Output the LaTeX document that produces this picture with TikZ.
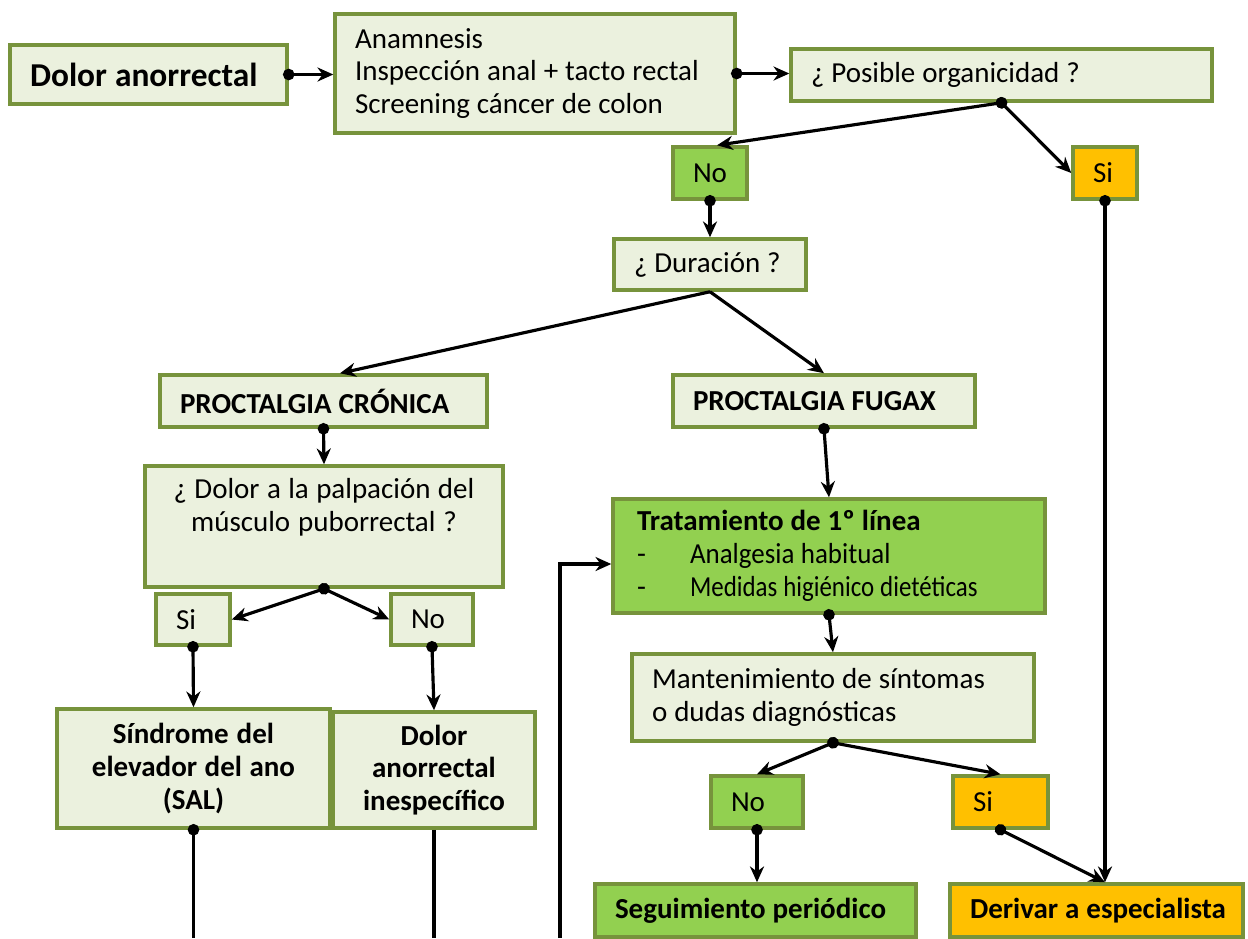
\documentclass[tikz,border=0pt]{standalone}
\usepackage{fontspec}
\setmainfont{Carlito}
\usetikzlibrary{arrows.meta, positioning}
\definecolor{boxfill}{HTML}{EBF1DE}
\definecolor{boxedge}{HTML}{77933C}
\definecolor{verde}{HTML}{92D050}
\definecolor{naranja}{HTML}{FFC000}

\begin{document}
\begin{tikzpicture}[
    x=0.02cm, y=-0.02cm,
    box/.style={rectangle, draw=boxedge, line width=2pt, fill=boxfill,
                font=\fontsize{16.5}{18.7}\selectfont, inner ysep=2pt,
                execute at begin node={\spaceskip=0.24em plus 0.05em\relax}},
    lbox/.style={box, align=left, inner xsep=0.4cm, text width=#1},
    cbox/.style={box, align=center, inner xsep=0.2cm, text width=#1},
    gbox/.style={fill=verde},
    obox/.style={fill=naranja},
    arrow/.style={line width=1.8pt, shorten <=-3.25pt,
                  {Circle[length=6.5pt]}-{Stealth[length=9pt, width=8pt]}},
    arrownodot/.style={line width=1.8pt, -{Stealth[length=9pt, width=8pt]}},
    dotline/.style={line width=1.8pt, shorten <=-3.25pt, {Circle[length=6.5pt]}-},
    plainline/.style={line width=1.8pt}
]
\useasboundingbox (0,0) rectangle (1248,938);

% top row
\node (dolor)   [lbox=4.74cm, minimum height=1.18cm, font=\fontsize{19}{22}\bfseries] at (148.5,74.5) {Dolor anorrectal};
\node (exam)    [lbox=7.2cm, minimum height=2.38cm] at (535,73.5)
    {Anamnesis\\ Inspección anal + tacto rectal\\ Screening cáncer de colon};
\node (organ)   [lbox=7.62cm, minimum height=1.04cm] at (1001.5,75) {¿ Posible organicidad ?};
\node (no1)     [lbox=0.68cm, gbox, minimum height=1.04cm] at (710,173) {No};
\node (si1)     [lbox=0.48cm, obox, minimum height=1.04cm] at (1105,173) {Si};
\node (durac)   [lbox=3.04cm, minimum height=1.02cm] at (710,264.5) {\mbox{¿ Duración ?}};

% chronic branch
\node (cronica) [lbox=5.74cm, minimum height=1.04cm, font=\fontsize{16.5}{18.7}\bfseries] at (323.5,401) {PROCTALGIA CRÓNICA};
\node (palp)    [cbox=6.76cm, minimum height=2.42cm] at (324,526.5)
    {¿ Dolor a la palpación del\\ músculo puborrectal ?\\ \strut};
\node (si2)     [lbox=0.68cm, minimum height=1.02cm] at (193,619.5) {Si};
\node (no2)     [lbox=0.84cm, minimum height=1.02cm] at (432,619.5) {No};
\node (sindrome)[cbox=5.06cm, minimum height=2.38cm, font=\fontsize{16.5}{18.7}\bfseries] at (193.5,768.5)
    {Síndrome del\\ elevador del ano\\ (SAL)};
\node (inesp)   [cbox=3.64cm, minimum height=2.32cm, font=\fontsize{16.5}{18.7}\bfseries] at (434,770)
    {Dolor\\ anorrectal\\ inespecífico};

% fugax branch
\node (fugax)   [lbox=5.24cm, minimum height=1.04cm, font=\fontsize{16.5}{18.7}\bfseries] at (824,401) {PROCTALGIA FUGAX};
\node (trat)    [lbox=7.68cm, gbox, inner xsep=0.48cm, minimum height=2.28cm] at (829,556)
    {\textbf{Tratamiento de 1º línea}\\
     \makebox[1.06cm][l]{-}\scalebox{0.93}[1]{Analgesia habitual}\\
     \makebox[1.06cm][l]{-}\scalebox{0.86}[1]{Medidas higiénico dietéticas}};
\node (mant)    [lbox=7.24cm, minimum height=1.74cm] at (833,697.5)
    {Mantenimiento de síntomas\\ o dudas diagnósticas};
\node (no3)     [lbox=1.04cm, gbox, minimum height=1.04cm] at (757,802) {No};
\node (si3)     [lbox=1.1cm, obox, minimum height=1.04cm] at (1000.5,802) {Si};
\node (seguim)  [lbox=5.62cm, gbox, minimum height=1.06cm, font=\fontsize{16.5}{18.7}\bfseries] at (755.5,910.5) {Seguimiento periódico};
\node (deriv)   [lbox=5.06cm, obox, minimum height=1.06cm, font=\fontsize{16.5}{18.7}\bfseries] at (1096.5,910.5) {\mbox{Derivar a especialista}};

% loose ends at the bottom edge
\coordinate (bottom)  at (0,938);
\coordinate (retorno) at (560,938);
\coordinate (tratin)  at ([yshift=-0.16cm]trat.west);

\draw [arrow] (dolor.east) -- (dolor.east -| exam.west);
\draw [arrow] (exam.east) -- (exam.east -| organ.west);
\draw [arrow] (organ.south) -- ([xshift=0.14cm]no1.north);
\draw [arrow] (organ.south) -- (si1.west);
\draw [arrow] (si1.south) -- (si1.south |- deriv.north);
\draw [arrow] (no1.south) -- (durac.north);
\draw [arrownodot] (durac.south) -- ([xshift=0.33cm]cronica.north);
\draw [arrownodot] (durac.south) -- (fugax.north);
\draw [arrow] (cronica.south) -- (palp.north);
\draw [arrow] (fugax.south) -- (trat.north);
\draw [arrow] (palp.south) -- (si2.east);
\draw [arrow] (palp.south) -- (no2.west);
\draw [arrow] (si2.south) -- (sindrome.north);
\draw [arrow] (no2.south) -- (inesp.north);
\draw [dotline] (sindrome.south) -- (sindrome.south |- bottom);
\draw [plainline] (inesp.south) -- (inesp.south |- bottom);
\draw [arrownodot] (retorno) |- (tratin);
\draw [arrow] (trat.south) -- (mant.north);
\draw [arrow] (mant.south) -- (no3.north);
\draw [arrow] (mant.south) -- (si3.north);
\draw [arrow] (no3.south) -- (no3.south |- seguim.north);
\draw [arrow] (si3.south) -- (si1.south |- deriv.north);
\end{tikzpicture}
\end{document}
